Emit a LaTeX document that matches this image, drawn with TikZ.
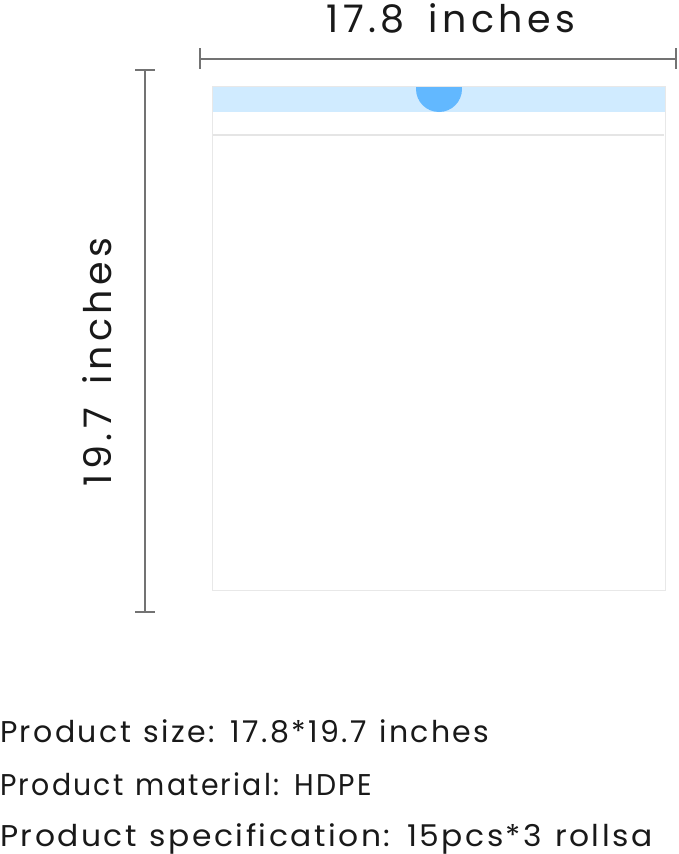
\documentclass[tikz,border=0pt]{standalone}
\usepackage{fontspec}
\setmainfont{Poppins}
\newfontfamily\bigfont[LetterSpace=12,WordSpace=1.6]{Poppins}
\newfontfamily\infofont[LetterSpace=8,WordSpace=1.2]{Poppins}
\begin{document}
\begin{tikzpicture}[x=1pt,y=-1pt,
  dimline/.style={draw=black!55,line width=2pt},
  bagedge/.style={draw=black!9,line width=1pt},
  biglbl/.style={inner sep=0pt,font=\bigfont\fontsize{38}{38}\selectfont,text=black!90},
  lbl/.style={inner sep=0pt,font=\infofont\fontsize{30}{30}\selectfont,text=black!90}]
\useasboundingbox[fill=white] (0,0) rectangle (679,854);
% bag
\coordinate (bagtl) at (212,86);
\coordinate (bagbr) at (665,590);
\fill[fill={rgb,255:red,208;green,235;blue,255}] (212,86) rectangle (665,112);
\begin{scope}
\clip (212,86) rectangle (665,112);
\fill[fill={rgb,255:red,98;green,184;blue,255}] (439,89) circle (23);
\end{scope}
\draw[bagedge] (bagtl) rectangle (bagbr);
\draw[draw=black!10,line width=1.5pt] (213,135) -- (664,135);
% top dimension
\coordinate (tl) at (200,59);
\coordinate (tr) at (676,59);
\draw[dimline] (tl) -- (tr);
\draw[dimline] (200,48) -- (200,69);
\draw[dimline] (676,48) -- (676,69);
\node[biglbl,anchor=base] (wlab) at (451,32) {17.8 inches};
% left dimension
\coordinate (lt) at (145,70);
\coordinate (lb) at (145,612);
\draw[dimline] (lt) -- (lb);
\draw[dimline] (135,70) -- (155,70);
\draw[dimline] (135,612) -- (155,612);
\node[biglbl,anchor=base,rotate=90] (hlab) at (111,362) {19.7 inches};
% text lines
\node[lbl,anchor=base west] (t1) at (0,742) {Product size: 17.8*19.7 inches};
\node[lbl,anchor=base west] (t2) at (0,795) {\scalebox{0.945}[1]{Product material: HDPE}};
\node[lbl,anchor=base west] (t3) at (0,846) {\scalebox{1.045}[1]{Product specification: 15pcs*3 rollsa}};
\end{tikzpicture}
\end{document}
